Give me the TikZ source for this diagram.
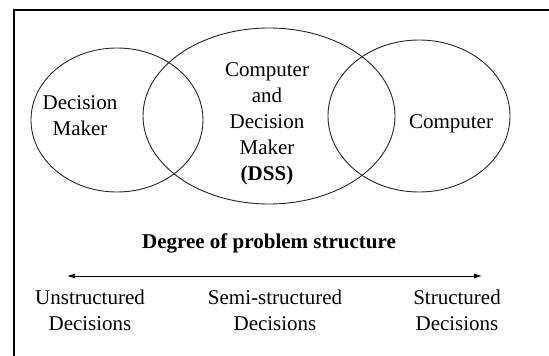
\documentclass[tikz,border=0pt]{standalone}
\usepackage{fontspec}
\setmainfont{Liberation Serif}
\usetikzlibrary{arrows.meta}

\tikzset{
    label/.style={align=center, font=\fontsize{21}{26}\selectfont},
    heading/.style={font=\fontsize{21}{26}\selectfont\bfseries},
    set/.style={line width=0.9pt, black!85}
}

\begin{document}
\begin{tikzpicture}[x=1pt, y=-1pt]
    \useasboundingbox (0,0) rectangle (549,356);
    %% frame, open on the right and at the bottom
    \draw[line width=1.8pt] (14,356) -- (14,10) -- (549,10);
    %% the three sets
    \draw[set] (117,120) ellipse [x radius=86pt, y radius=72pt];
    \draw[set] (269,116) ellipse [x radius=126pt, y radius=88pt];
    \draw[set] (419,116) ellipse [x radius=91pt, y radius=76pt];
    % set names
    \node[label] (maker) at (80,116) {Decision\\Maker};
    \node[label] (dss) at (267,124) {Computer\\and\\Decision\\Maker\\\textbf{(DSS)}};
    \node[label] (computer) at (451,124) {Computer};
    %% structure scale
    \node[heading] (degree) at (269,243) {Degree of problem structure};
    \coordinate (low) at (67,276);
    \coordinate (high) at (482,276);
    \draw[{Latex[length=8pt,width=5pt]}-{Latex[length=8pt,width=5pt]}, line width=0.9pt] (low) -- (high);
    % ends and middle of the scale
    \node[label] (unstructured) at (90,310) {Unstructured\\Decisions};
    \node[label] (semi) at (275,310) {Semi-structured\\Decisions};
    \node[label] (structured) at (457,310) {Structured\\Decisions};
\end{tikzpicture}
\end{document}
